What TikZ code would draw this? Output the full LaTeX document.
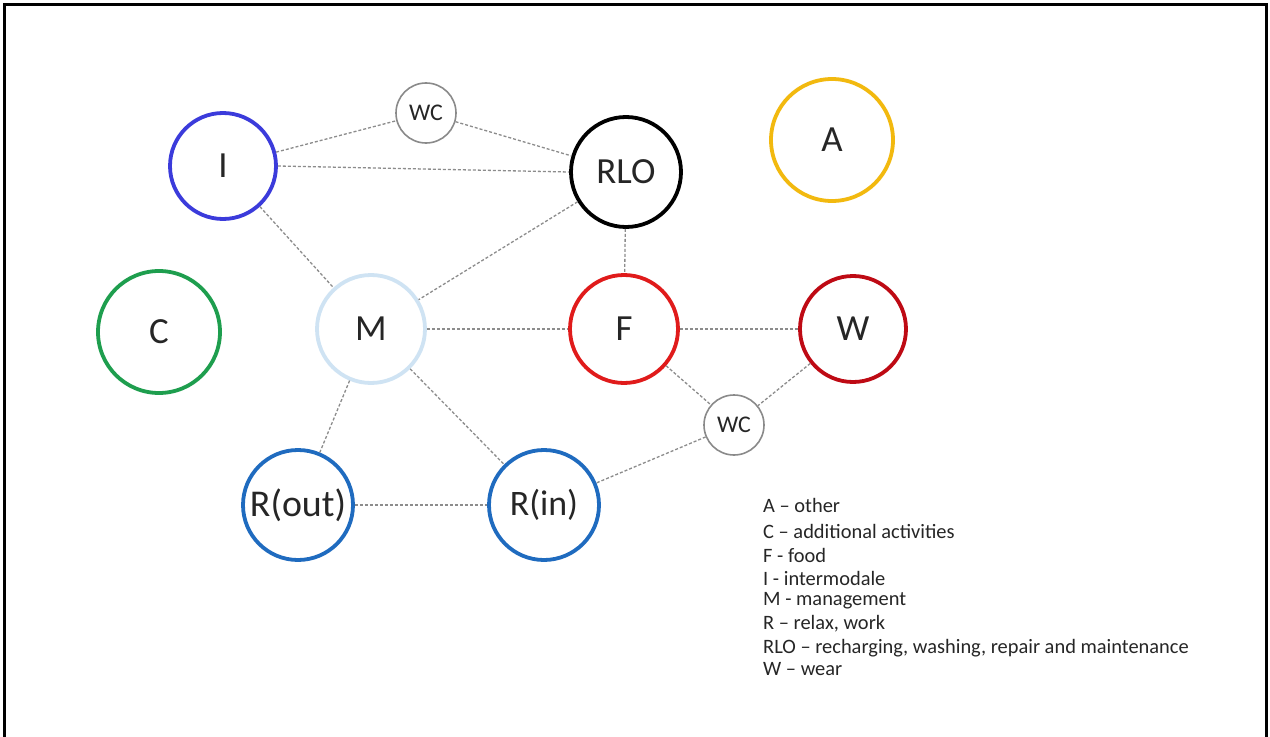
\documentclass[tikz,border=0pt]{standalone}
\usepackage{fontspec}
\setmainfont{Carlito}
\definecolor{cI}{HTML}{3B3BDB}
\definecolor{cA}{HTML}{F2B90F}
\definecolor{cC}{HTML}{1E9E4E}
\definecolor{cM}{HTML}{CFE3F3}
\definecolor{cF}{HTML}{E01B1B}
\definecolor{cW}{HTML}{BE0A14}
\definecolor{cR}{HTML}{1F6BBF}
\definecolor{cWC}{HTML}{8A8A8A}
\definecolor{cline}{HTML}{8C8C8C}
\definecolor{ctext}{HTML}{262626}
\tikzset{
  actnode/.style={circle, draw, line width=3.8bp, inner sep=0pt, text=ctext,
    font=\fontsize{37}{37}\selectfont},
  wcnode/.style={circle, draw=cWC, line width=1.6bp, inner sep=0pt, minimum size=60bp,
    text=ctext, font=\fontsize{24}{24}\selectfont},
  link/.style={draw=cline, line width=1.3bp, dash pattern=on 3bp off 2bp},
  legend/.style={anchor=west, inner sep=0pt, text=ctext, font=\fontsize{20.5}{20.5}\selectfont}
}
\begin{document}
\begin{tikzpicture}[x=1bp, y=-1bp]
\useasboundingbox (0,0) rectangle (1270,737);
\fill[white] (0,0) rectangle (1270,737);
\draw[line width=3bp] (4,737) -- (4,5) -- (1266,5) -- (1266,737);

\node[actnode, draw=cI, minimum size=106bp] (I) at (223,166) {I};
\node[wcnode] (wc1) at (426,113) {WC};
\node[actnode, draw=black, minimum size=110bp] (RLO) at (626,172) {RLO};
\node[actnode, draw=cA, minimum size=122bp] (A) at (832,140) {A};
\node[actnode, draw=cC, minimum size=122bp] (C) at (159,332) {C};
\node[actnode, draw=cM, minimum size=108bp] (M) at (371,329) {M};
\node[actnode, draw=cF, minimum size=108bp] (F) at (624,329) {F};
\node[actnode, draw=cW, minimum size=106bp] (W) at (853,329) {W};
\node[wcnode] (wc2) at (734,425) {WC};
\node[actnode, draw=cR, minimum size=110bp, font=\fontsize{38}{38}\selectfont] (Rout) at (298,505) {R(out)};
\node[actnode, draw=cR, minimum size=110bp, font=\fontsize{36}{36}\selectfont] (Rin) at (544,505) {R(in)};

\path[link] (I) -- (wc1);
\path[link] (wc1) -- (RLO);
\path[link] (I.east) -- (RLO.west);
\path[link] (I) -- (M);
\path[link] (RLO) -- (M);
\path[link] (RLO) -- (F);
\path[link] (M) -- (F);
\path[link] (F) -- (W);
\path[link] (F) -- (wc2);
\path[link] (W) -- (wc2);
\path[link] (wc2) -- (Rin);
\path[link] (M) -- (Rout);
\path[link] (M) -- (Rin);
\path[link] (Rout) -- (Rin);

\node[legend] (l1) at (763,505) {A – other};
\node[legend] (l2) at (763,531) {C – additional activities};
\node[legend] (l3) at (763,555) {F - food};
\node[legend] (l4) at (763,578) {I - intermodale};
\node[legend] (l5) at (763,601) {M - management};
\node[legend] (l6) at (763,624) {R – relax, work};
\node[legend] (l7) at (763,648) {RLO – recharging, washing, repair and maintenance};
\node[legend] (l8) at (763,669) {W – wear};
\end{tikzpicture}
\end{document}
